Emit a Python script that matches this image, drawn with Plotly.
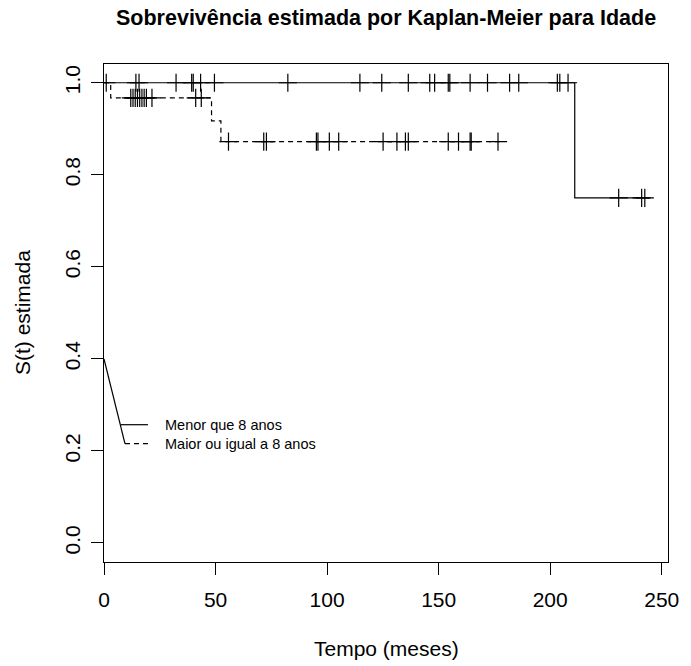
import plotly.graph_objects as go

# ---- data ----
group_names = ["Menor que 8 anos", "Maior ou igual a 8 anos"]

# group 1 (solid): step curve and censoring times
g1_step_t = [0, 211, 244.5]
g1_step_s = [1.0, 0.75, 0.75]
g1_cens_t = [1, 14.3, 15.7, 32.3, 39.3, 40.0, 43.3, 49.5, 82.4, 114.7, 124.5,
             136.4, 146.0, 148.2, 154.3, 155.0, 164.1, 171.9, 181.8, 185.9,
             203.2, 204.3, 208.0, 230.7, 241.0, 242.4]

# group 2 (dashed)
g2_step_t = [0, 3, 48.2, 52.4, 177.5]
g2_step_s = [1.0, 0.967, 0.917, 0.872, 0.872]
g2_cens_t = [12.0, 13.0, 14.0, 15.0, 16.0, 17.0, 18.0, 19.0, 21.5, 41.1, 43.6,
             55.8, 71.6, 72.8, 95.2, 95.9, 101.0, 105.2, 125.1, 131.3, 135.1,
             136.4, 154.3, 158.9, 164.1, 164.6, 176.6]

x_ticks = [0, 50, 100, 150, 200, 250]
y_ticks = [0.0, 0.2, 0.4, 0.6, 0.8, 1.0]
y_ticklabels = ["0.0", "0.2", "0.4", "0.6", "0.8", "1.0"]


def surv_at(t, st, ss):
    v = ss[0]
    for ti, si in zip(st, ss):
        if ti <= t:
            v = si
    return v


FONT = "Liberation Sans, Arial, Helvetica, sans-serif"
W, H = 691, 666
ML, MR, MT, MB = 104, 15, 64, 104
AXFS = 21
LEGFS = 14.5

fig = go.Figure()
for st, ss, ct, dash in [(g1_step_t, g1_step_s, g1_cens_t, "solid"),
                         (g2_step_t, g2_step_s, g2_cens_t, "5px,4px")]:
    fig.add_trace(go.Scatter(x=st, y=ss, mode="lines", line_shape="hv",
                             line=dict(color="black", width=1.2, dash=dash),
                             showlegend=False, hoverinfo="skip"))
    fig.add_trace(go.Scatter(x=ct, y=[surv_at(t, st, ss) for t in ct],
                             mode="markers",
                             marker=dict(symbol="cross-thin", size=13,
                                         line=dict(color="black", width=1.2)),
                             showlegend=False, hoverinfo="skip"))

# custom legend (R style), with leader line from the y axis
shapes = [
    dict(type="line", xref="x", yref="y", x0=0, y0=0.4, x1=9.4, y1=0.216,
         line=dict(color="black", width=1.2)),
    dict(type="line", xref="x", yref="y", x0=7.6, y0=0.257, x1=19.7, y1=0.257,
         line=dict(color="black", width=1.2)),
    dict(type="line", xref="x", yref="y", x0=9.4, y0=0.216, x1=19.7, y1=0.216,
         line=dict(color="black", width=1.2, dash="5px,4px")),
]
annotations = [
    dict(text=group_names[0], xref="x", yref="y", x=26.3, y=0.257,
         xanchor="left", yanchor="middle", showarrow=False,
         font=dict(family=FONT, size=LEGFS, color="black")),
    dict(text=group_names[1], xref="x", yref="y", x=26.3, y=0.216,
         xanchor="left", yanchor="middle", showarrow=False,
         font=dict(family=FONT, size=LEGFS, color="black")),
    dict(text="<b>Sobrevivência estimada por Kaplan-Meier para Idade</b>",
         xref="paper", yref="paper", x=0.5, y=1, yshift=46,
         xanchor="center", yanchor="middle", showarrow=False,
         font=dict(family=FONT, size=21.5, color="black")),
    dict(text="Tempo (meses)", xref="paper", yref="paper", x=0.5, y=0,
         yshift=-86, xanchor="center", yanchor="middle", showarrow=False,
         font=dict(family=FONT, size=AXFS, color="black")),
    dict(text="S(t) estimada", xref="paper", yref="paper", x=0, y=0.5,
         xshift=-82, xanchor="center", yanchor="middle", showarrow=False,
         textangle=-90, font=dict(family=FONT, size=AXFS, color="black")),
]

fig.update_layout(
    width=W, height=H, autosize=False,
    margin=dict(l=ML, r=MR, t=MT, b=MB, pad=0),
    paper_bgcolor="white", plot_bgcolor="white",
    font=dict(family=FONT, size=AXFS, color="black"),
    shapes=shapes, annotations=annotations,
    xaxis=dict(range=[0, 252.8], tickvals=x_ticks, ticktext=[str(v) for v in x_ticks],
               ticks="outside", ticklen=12, tickwidth=1, tickcolor="black",
               showline=True, mirror=True, linecolor="black", linewidth=1.2,
               showgrid=False, zeroline=False, ticklabelstandoff=7,
               tickfont=dict(family=FONT, size=AXFS, color="black")),
    yaxis=dict(range=[-0.0413, 1.0407], tickvals=y_ticks, ticktext=y_ticklabels,
               ticks="outside", ticklen=12, tickwidth=1, tickcolor="black",
               showline=True, mirror=True, linecolor="black", linewidth=1.2,
               showgrid=False, zeroline=False, tickangle=-90, ticklabelstandoff=3,
               tickfont=dict(family=FONT, size=AXFS, color="black")),
)

fig.write_html("out.html")
